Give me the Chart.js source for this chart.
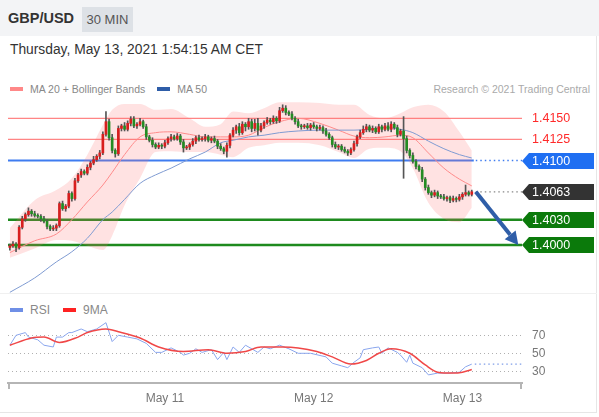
<!DOCTYPE html>
<html>
<head>
<meta charset="utf-8">
<script src="https://cdn.jsdelivr.net/npm/chart.js@4.4.0/dist/chart.umd.min.js"></script>
<style>
  body { margin: 0; width: 599px; height: 417px; overflow: hidden; background: #fff; position: relative;
         font-family: "Liberation Sans", Arial, sans-serif; }
  #top { position: absolute; left: 0; top: 0; width: 599px; height: 36px; background: #f3f4f6; }
  #pair { position: absolute; left: 8px; top: 10px; font-size: 14.5px; font-weight: bold; color: #333; }
  #tf { position: absolute; left: 82px; top: 7px; width: 51px; height: 25px; line-height: 25px; text-align: center;
        background: #dde1e6; color: #555; font-size: 13px; }
  #date { position: absolute; left: 10px; top: 42px; font-size: 13.8px; color: #333; }
  .legend { position: absolute; left: 10px; font-size: 10.5px; color: #888; white-space: nowrap; }
  .legend i { display: inline-block; width: 13px; height: 4px; vertical-align: middle; margin-right: 7px; position: relative; top: -1px; }
  .legend span { margin-right: 12px; }
  #legend1 { top: 83px; }
  #legend2 { top: 303px; font-size: 12px; }
  #credit { position: absolute; right: 9px; top: 83px; font-size: 10.5px; color: #aaa; }
  #sep { position: absolute; left: 0; top: 293px; width: 597px; height: 1px; background: #f0f0f0; }
  #frame { position: absolute; left: 0; top: 36px; width: 596px; height: 376px; border-right: 1px solid #e6e6e6; border-bottom: 1px solid #e6e6e6; }
  canvas { position: absolute; left: 0; }
  #price-chart { top: 95px; }
  #rsi-chart { top: 295px; }
</style>
</head>
<body>
<div id="top"><div id="pair">GBP/USD</div><div id="tf">30 MIN</div></div>
<div id="frame"></div>
<div id="date">Thursday, May 13, 2021 1:54:15 AM CET</div>
<div id="legend1" class="legend"><i style="background:#f88"></i><span>MA 20 + Bollinger Bands</span><i style="background:#2e5da8"></i>MA 50</div>
<div id="credit">Research © 2021 Trading Central</div>
<div id="sep"></div>
<div id="legend2" class="legend"><i style="background:#6f8fe6"></i><span style="margin-right:13px">RSI</span><i style="background:#f22"></i>9MA</div>
<canvas id="price-chart" width="599" height="200"></canvas>
<canvas id="rsi-chart" width="599" height="122"></canvas>
<script>
// 30 min candles, index 0 = May 10 ~01:00 CET, index 146 = May 13 00:00
const firstOpen = 1.3997;
const closes = [
  1.3999, 1.4001, 1.3997, 1.4021, 1.4031, 1.4036, 1.4040, 1.4037, 1.4035, 1.4034,
  1.4031, 1.4028, 1.4022, 1.4019, 1.4020, 1.4023, 1.4049, 1.4043, 1.4046, 1.4061,
  1.4055, 1.4076, 1.4083, 1.4087, 1.4085, 1.4092, 1.4097, 1.4101, 1.4105, 1.4109,
  1.4131, 1.4146, 1.4127, 1.4112, 1.4108, 1.4138, 1.4141, 1.4137, 1.4144, 1.4149,
  1.4141, 1.4143, 1.4146, 1.4140, 1.4128, 1.4124, 1.4119, 1.4116, 1.4118, 1.4117,
  1.4121, 1.4126, 1.4128, 1.4126, 1.4129, 1.4122, 1.4115, 1.4116, 1.4119, 1.4123,
  1.4127, 1.4125, 1.4126, 1.4128, 1.4124, 1.4126, 1.4123, 1.4117, 1.4114, 1.4111,
  1.4118, 1.4130, 1.4136, 1.4140, 1.4133, 1.4143, 1.4140, 1.4146, 1.4138, 1.4144,
  1.4136, 1.4141, 1.4145, 1.4148, 1.4146, 1.4150, 1.4147, 1.4159, 1.4162, 1.4157,
  1.4155, 1.4150, 1.4146, 1.4141, 1.4140, 1.4141, 1.4139, 1.4142, 1.4140, 1.4138,
  1.4139, 1.4135, 1.4131, 1.4127, 1.4119, 1.4116, 1.4117, 1.4113, 1.4111, 1.4109,
  1.4113, 1.4120, 1.4128, 1.4133, 1.4137, 1.4140, 1.4136, 1.4138, 1.4134, 1.4140,
  1.4137, 1.4141, 1.4137, 1.4143, 1.4139, 1.4131, 1.4135, 1.4126, 1.4112, 1.4106,
  1.4099, 1.4093, 1.4089, 1.4078, 1.4068, 1.4062, 1.4059, 1.4062, 1.4058, 1.4057,
  1.4055, 1.4056, 1.4053, 1.4055, 1.4054, 1.4057, 1.4060, 1.4062, 1.4060, 1.4063
];
// wick sizes beyond the body, in pips
const wickUp = [
  2,3,2,2,3,2,4,2,3,2, 2,3,2,2,3,2,2,3,2,3, 2,3,2,3,2,3,2,4,2,3, 3,12,3,4,2,3,2,4,3,3,
  3,2,4,2,3,2,3,2,3,2, 3,2,3,2,3,2,3,2,2,3, 2,3,2,3,2,2,3,2,3,2, 3,2,3,2,4,3,2,4,3,5,
  6,3,2,3,2,3,2,4,4,3, 2,3,2,3,2,2,3,2,3,2, 3,2,3,2,2,3,2,2,3,2, 2,3,2,3,4,3,2,3,2,3,
  2,3,4,3,2,3,2,17,3,2, 3,2,2,3,2,3,2,3,2,2, 3,2,2,3,2,3,2,9,2,2
];
const wickDown = [
  3,2,5,2,2,3,2,3,2,2, 3,2,3,2,2,3,2,2,3,2, 3,2,2,3,2,2,3,2,2,3, 2,2,3,3,4,2,3,2,2,3,
  2,3,2,2,3,2,3,2,2,3, 2,2,3,2,2,3,5,2,3,2, 3,2,2,3,2,3,2,3,2,3, 7,3,2,4,3,2,5,3,4,3,
  6,2,3,2,3,2,3,2,2,3, 2,2,3,2,3,2,2,3,2,3, 2,3,2,2,3,2,3,2,2,3, 2,2,3,2,2,3,2,3,2,2,
  3,2,2,3,2,3,2,47,3,3, 2,3,2,3,3,2,3,2,3,2, 2,3,3,2,3,2,3,2,2,2
];

// indicator samples (candle index → value)
const bandIdx = [0, 8, 15, 20, 25, 30, 33, 37, 42, 47, 52, 58, 63, 68, 72, 77, 82, 87, 93, 100, 106, 111, 116, 121, 126, 130, 135, 140, 145, 149];
const bbUpper = [1.4020, 1.4053, 1.4065, 1.4079, 1.4107, 1.4142, 1.4160, 1.4167, 1.4167, 1.4160, 1.4161, 1.4150, 1.4140, 1.4143, 1.4158,
                 1.4156, 1.4162, 1.4169, 1.4169, 1.4168, 1.4166, 1.4166, 1.4154, 1.4150, 1.4156, 1.4163, 1.4166, 1.4158, 1.4134, 1.4112];
const bbLower = [1.3985, 1.3996, 1.4006, 1.4005, 1.3999, 1.3994, 1.4011, 1.4047, 1.4079, 1.4110, 1.4111, 1.4110, 1.4110, 1.4107, 1.4104,
                 1.4115, 1.4118, 1.4121, 1.4121, 1.4118, 1.4110, 1.4103, 1.4114, 1.4115, 1.4111, 1.4091, 1.4050, 1.4031, 1.4027, 1.4044];
const ma20 = [1.3991, 1.4005, 1.4013, 1.4030, 1.4051, 1.4071, 1.4086, 1.4107, 1.4128, 1.4133, 1.4134, 1.4131, 1.4128, 1.4128, 1.4128,
              1.4130, 1.4139, 1.4146, 1.4150, 1.4144, 1.4136, 1.4129, 1.4127, 1.4128, 1.4130, 1.4127, 1.4109, 1.4091, 1.4078, 1.4070];
const ma50 = [1.3944, 1.3961, 1.3980, 1.3992, 1.4008, 1.4030, 1.4039, 1.4054, 1.4073, 1.4083, 1.4091, 1.4102, 1.4110, 1.4121, 1.4124,
              1.4128, 1.4130, 1.4133, 1.4135, 1.4136, 1.4136, 1.4136, 1.4137, 1.4139, 1.4137, 1.4133, 1.4123, 1.4114, 1.4107, 1.4103];

const levelPrices = [1.4150, 1.4125, 1.4100, 1.4063, 1.4030, 1.4000];
const levelLabels = ["1.4150", "1.4125", "1.4100", "1.4063", "1.4030", "1.4000"];
const targetPrice = 1.4000;

const rsiIdx = [0, 2, 5, 6, 9, 11, 14, 15, 17, 19, 20, 23, 25, 28, 31, 33, 35, 38, 41, 44, 47, 49, 52, 55, 56, 58, 60, 62, 65, 67,
                69, 70, 72, 74, 76, 80, 82, 84, 87, 90, 93, 97, 102, 104, 107, 109, 111, 113, 114, 117, 119, 120, 122, 125, 126, 128, 129, 130,
                133, 135, 138, 142, 145, 147, 149];
const rsiVals = [59, 70, 73, 68, 65, 59, 57, 68, 68, 73, 73, 77, 74, 77, 84, 63, 70, 68, 66, 61, 51, 51, 56, 51, 48, 50, 55, 51, 54, 43,
                 51, 43, 57, 51, 59, 51, 57, 55, 59, 55, 50, 50, 46, 39, 36, 34, 40, 45, 54, 56, 57, 50, 56, 51, 48, 40, 48, 39,
                 34, 26, 28, 28, 29, 35, 38];
const rsiMaIdx = [0, 7, 11, 16, 22, 25, 31, 35, 42, 48, 56, 64, 70, 76, 81, 88, 93, 99, 104, 110, 115, 119, 123, 129, 134, 138, 143, 146, 149];
const rsiMaVals = [59, 67, 68, 62, 68, 73, 77, 74, 67, 57, 52, 54, 50, 52, 57, 57, 56, 52, 46, 38, 42, 50, 55, 50, 37, 29, 28, 29, 32];
const rsiLevels = [30, 50, 70];

const dayTicks = [50, 98, 146];
const dayLabels = ["May 11", "May 12", "May 13"];

const X_MIN = -0.6, X_MAX = 165.2;

const opens = closes.map((c, i) => (i === 0 ? firstOpen : closes[i - 1]));
const highs = closes.map((c, i) => Math.max(opens[i], c) + wickUp[i] / 10000);
const lows = closes.map((c, i) => Math.min(opens[i], c) - wickDown[i] / 10000);
const pts = (xs, ys) => xs.map((x, k) => ({ x: x, y: ys[k] }));

const FONT = '"Liberation Sans", Arial, sans-serif';

const levelStyle = [
  { color: "#ff8585", width: 1.3, text: "#ff2a2a" },
  { color: "#ff8585", width: 1.3, text: "#ff2a2a" },
  { color: "#3f7cf0", width: 2, box: "#1f6ff2", dottedFromLast: true },
  { color: "#888888", width: 1, box: "#333333", dottedOnly: true },
  { color: "#1e8a1e", width: 2.5, box: "#0b7a0b" },
  { color: "#1e8a1e", width: 2.5, box: "#0b7a0b" },
];

const levelsPlugin = {
  id: "levels",
  beforeDatasetsDraw(chart) {
    const { ctx, chartArea, scales: { x, y } } = chart;
    const lastX = x.getPixelForValue(closes.length - 1) + 2;
    ctx.save();
    levelPrices.forEach((p, k) => {
      const st = levelStyle[k];
      const py = y.getPixelForValue(p);
      ctx.strokeStyle = st.color;
      ctx.lineWidth = st.width;
      if (!st.dottedOnly) {
        ctx.setLineDash([]);
        ctx.beginPath();
        ctx.moveTo(chartArea.left, py);
        ctx.lineTo(st.dottedFromLast ? lastX : chartArea.right, py);
        ctx.stroke();
      }
      if (st.dottedOnly || st.dottedFromLast) {
        ctx.setLineDash([1.5, 3]);
        ctx.lineWidth = st.dottedOnly ? 1.2 : 1.5;
        ctx.beginPath();
        ctx.moveTo(lastX + 2, py);
        ctx.lineTo(chartArea.right, py);
        ctx.stroke();
      }
    });
    ctx.restore();
  },
  afterDraw(chart) {
    const { ctx, chartArea, scales: { x, y } } = chart;
    ctx.save();
    ctx.font = "12.5px " + FONT;
    ctx.textBaseline = "middle";
    levelPrices.forEach((p, k) => {
      const st = levelStyle[k];
      const py = Math.round(y.getPixelForValue(p));
      const left = chartArea.right;
      if (st.box) {
        ctx.fillStyle = st.box;
        ctx.beginPath();
        ctx.moveTo(left, py);
        ctx.lineTo(left + 7, py - 8);
        ctx.lineTo(left + 72, py - 8);
        ctx.lineTo(left + 72, py + 8);
        ctx.lineTo(left + 7, py + 8);
        ctx.closePath();
        ctx.fill();
        ctx.fillStyle = "#fff";
      } else {
        ctx.fillStyle = st.text;
      }
      ctx.fillText(levelLabels[k], left + 10, py + 1);
    });
    // projection arrow from last close to target
    const x0 = x.getPixelForValue(closes.length - 1) + 4;
    const y0 = y.getPixelForValue(closes[closes.length - 1]);
    const x1 = x.getPixelForValue(X_MAX - 1.2);
    const y1 = y.getPixelForValue(targetPrice);
    const ang = Math.atan2(y1 - y0, x1 - x0);
    const head = 13, half = 7;
    const bx = x1 - head * Math.cos(ang), by = y1 - head * Math.sin(ang);
    ctx.strokeStyle = "#2f5ea8";
    ctx.fillStyle = "#2f5ea8";
    ctx.lineWidth = 4;
    ctx.beginPath();
    ctx.moveTo(x0, y0);
    ctx.lineTo(bx, by);
    ctx.stroke();
    ctx.beginPath();
    ctx.moveTo(x1, y1);
    ctx.lineTo(bx + half * Math.sin(ang), by - half * Math.cos(ang));
    ctx.lineTo(bx - half * Math.sin(ang), by + half * Math.cos(ang));
    ctx.closePath();
    ctx.fill();
    ctx.restore();
  }
};

new Chart(document.getElementById("price-chart").getContext("2d"), {
  type: "bar",
  data: {
    datasets: [
      {
        type: "line", label: "BB upper", data: pts(bandIdx, bbUpper),
        borderWidth: 0, pointRadius: 0, fill: false, cubicInterpolationMode: "monotone", order: 10,
      },
      {
        type: "line", label: "BB lower", data: pts(bandIdx, bbLower),
        borderWidth: 0, pointRadius: 0, fill: "-1", backgroundColor: "rgba(255, 110, 110, 0.2)",
        cubicInterpolationMode: "monotone", order: 9,
      },
      {
        type: "line", label: "MA 20", data: pts(bandIdx, ma20),
        borderColor: "#ff8a8a", borderWidth: 1, pointRadius: 0, fill: false, cubicInterpolationMode: "monotone", order: 5,
      },
      {
        type: "line", label: "MA 50", data: pts(bandIdx, ma50),
        borderColor: "#7f9bd2", borderWidth: 1, pointRadius: 0, fill: false, cubicInterpolationMode: "monotone", order: 4,
      },
      {
        label: "wicks", data: closes.map((c, i) => ({ x: i, y: [lows[i], highs[i]] })),
        backgroundColor: "#555", barThickness: 1, grouped: false, order: 2,
      },
      {
        label: "GBP/USD", data: closes.map((c, i) => ({ x: i, y: [opens[i], c] })),
        backgroundColor: closes.map((c, i) => (c >= opens[i] ? "#d81e1e" : "#238c23")),
        barThickness: 2, minBarLength: 1, grouped: false, order: 1,
      },
    ],
  },
  options: {
    responsive: false,
    animation: false,
    events: [],
    layout: { padding: { left: 8, right: 77, top: 0, bottom: 0 } },
    plugins: { legend: { display: false }, tooltip: { enabled: false } },
    scales: {
      x: { type: "linear", display: false, min: X_MIN, max: X_MAX, offset: false },
      y: { display: false, min: 1.39408, max: 1.41776 },
    },
  },
  plugins: [levelsPlugin],
});

const rsiExtras = {
  id: "rsiExtras",
  afterDraw(chart) {
    const { ctx, chartArea, scales: { x, y } } = chart;
    ctx.save();
    // dotted continuation of the last RSI value
    const last = rsiVals[rsiVals.length - 1];
    ctx.strokeStyle = "#7f9de8";
    ctx.lineWidth = 1.3;
    ctx.setLineDash([1.5, 3]);
    ctx.beginPath();
    ctx.moveTo(x.getPixelForValue(rsiIdx[rsiIdx.length - 1]) + 3, y.getPixelForValue(last));
    ctx.lineTo(chartArea.right, y.getPixelForValue(last));
    ctx.stroke();
    // end ticks on the time axis
    ctx.setLineDash([]);
    ctx.strokeStyle = "#b5b5b5";
    ctx.lineWidth = 2;
    [chartArea.left + 1, chartArea.right - 1].forEach((px) => {
      ctx.beginPath();
      ctx.moveTo(px, chartArea.bottom);
      ctx.lineTo(px, chartArea.bottom + 6);
      ctx.stroke();
    });
    ctx.restore();
  }
};

new Chart(document.getElementById("rsi-chart").getContext("2d"), {
  type: "line",
  data: {
    datasets: [
      {
        label: "9MA", data: pts(rsiMaIdx, rsiMaVals), borderColor: "#f04848", borderWidth: 1.5,
        pointRadius: 0, cubicInterpolationMode: "monotone", order: 1,
      },
      {
        label: "RSI", data: pts(rsiIdx, rsiVals), borderColor: "#8aa6ee", borderWidth: 1,
        pointRadius: 0, tension: 0, order: 2,
      },
    ],
  },
  options: {
    responsive: false,
    animation: false,
    events: [],
    layout: { padding: { left: 8, right: 0, top: 23, bottom: 0 } },
    plugins: { legend: { display: false }, tooltip: { enabled: false } },
    scales: {
      x: {
        type: "linear", min: X_MIN, max: X_MAX, offset: false,
        afterBuildTicks: (axis) => { axis.ticks = dayTicks.map((v) => ({ value: v })); },
        afterFit: (axis) => { axis.height = 34; },
        ticks: {
          autoSkip: false, maxRotation: 0, padding: 8, color: "#777",
          font: { family: FONT, size: 12 },
          callback: (v) => dayLabels[dayTicks.indexOf(v)] || "",
        },
        grid: { display: false, drawTicks: false },
        border: { display: true, color: "#b5b5b5", width: 2 },
      },
      y: {
        position: "right", min: 17, max: 89.2,
        afterBuildTicks: (axis) => { axis.ticks = rsiLevels.map((v) => ({ value: v })); },
        afterFit: (axis) => { axis.width = 77; },
        ticks: { padding: 10, color: "#777", font: { family: FONT, size: 12 } },
        grid: { color: "#b0b0b0", lineWidth: 1, drawTicks: false },
        border: { display: false, dash: [1, 3] },
      },
    },
  },
  plugins: [rsiExtras],
});
</script>
</body>
</html>
